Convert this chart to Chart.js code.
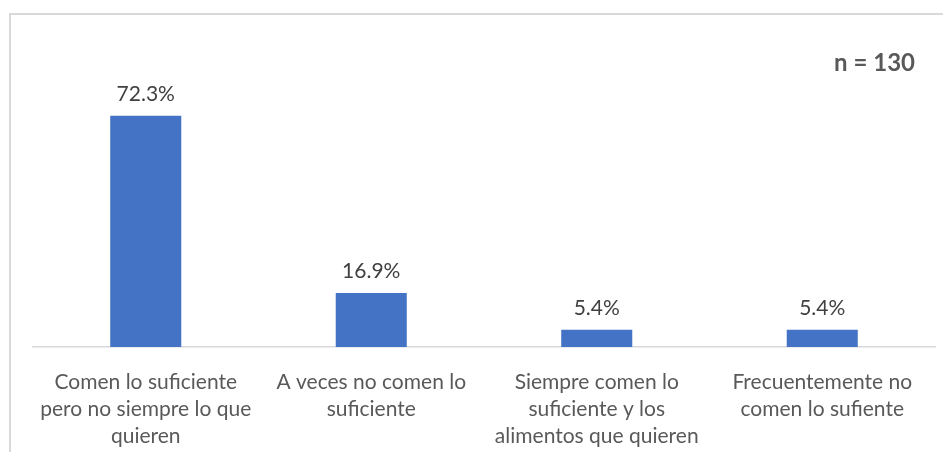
<!DOCTYPE html>
<html>
<head>
<meta charset="utf-8">
<script src="https://cdn.jsdelivr.net/npm/chart.js@4/dist/chart.umd.min.js"></script>
<style>
  html, body { margin: 0; padding: 0; background: #fff; overflow: hidden; }
  #frame {
    position: absolute; left: 9px; top: 13px; width: 960px; height: 470px;
    border: 2px solid #d9d9d9; box-sizing: border-box;
  }
  #wrap { position: absolute; left: 0; top: 0; width: 943px; height: 452px; }
</style>
</head>
<body>
<div id="frame"></div>
<div id="wrap"><canvas id="foodChart"></canvas></div>
<script>
// =====================================
// Suficiencia de alimentos (bar chart)
// =====================================
const categories = [
    ["Comen lo suficiente", "pero no siempre lo que", "quieren"],
    ["A veces no comen lo", "suficiente"],
    ["Siempre comen lo", "suficiente y los", "alimentos que quieren"],
    ["Frecuentemente no", "comen lo sufiente"]
];
const percentages = [72.3, 16.9, 5.4, 5.4];
const sampleLabel = "n = 130";

const FONT = "Lato, 'Open Sans', sans-serif";

// value labels above each bar + the sample size note
const barLabels = {
    id: "barLabels",
    afterDatasetsDraw(chart) {
        const ctx = chart.ctx;
        const meta = chart.getDatasetMeta(0);
        ctx.save();
        ctx.font = "21px " + FONT;
        ctx.fillStyle = "#404040";
        ctx.textAlign = "center";
        ctx.textBaseline = "alphabetic";
        meta.data.forEach((bar, i) => {
            ctx.fillText(percentages[i].toFixed(1) + "%", bar.x, bar.y - 15);
        });
        ctx.font = "bold 24px " + FONT;
        ctx.fillStyle = "#595959";
        ctx.textAlign = "right";
        ctx.fillText(sampleLabel, 915, 71);
        ctx.restore();
    }
};

new Chart(document.getElementById("foodChart"), {
    type: "bar",
    data: {
        labels: categories,
        datasets: [{
            data: percentages,
            backgroundColor: "#4472c4",
            barPercentage: 0.315,
            categoryPercentage: 1
        }]
    },
    options: {
        responsive: true,
        maintainAspectRatio: false,
        animation: false,
        layout: { padding: { left: 33, right: 8, top: 91, bottom: 0 } },
        plugins: {
            legend: { display: false },
            tooltip: { enabled: false }
        },
        scales: {
            x: {
                grid: { display: false },
                border: { display: true, color: "#d9d9d9", width: 1.5 },
                ticks: {
                    color: "#595959",
                    padding: 14,
                    maxRotation: 0,
                    autoSkip: false,
                    font: { family: FONT, size: 21, lineHeight: 1.286 }
                },
                afterFit(scale) { scale.height = 105; }
            },
            y: {
                display: false,
                min: 0,
                max: 80
            }
        }
    },
    plugins: [barLabels]
});
</script>
</body>
</html>
